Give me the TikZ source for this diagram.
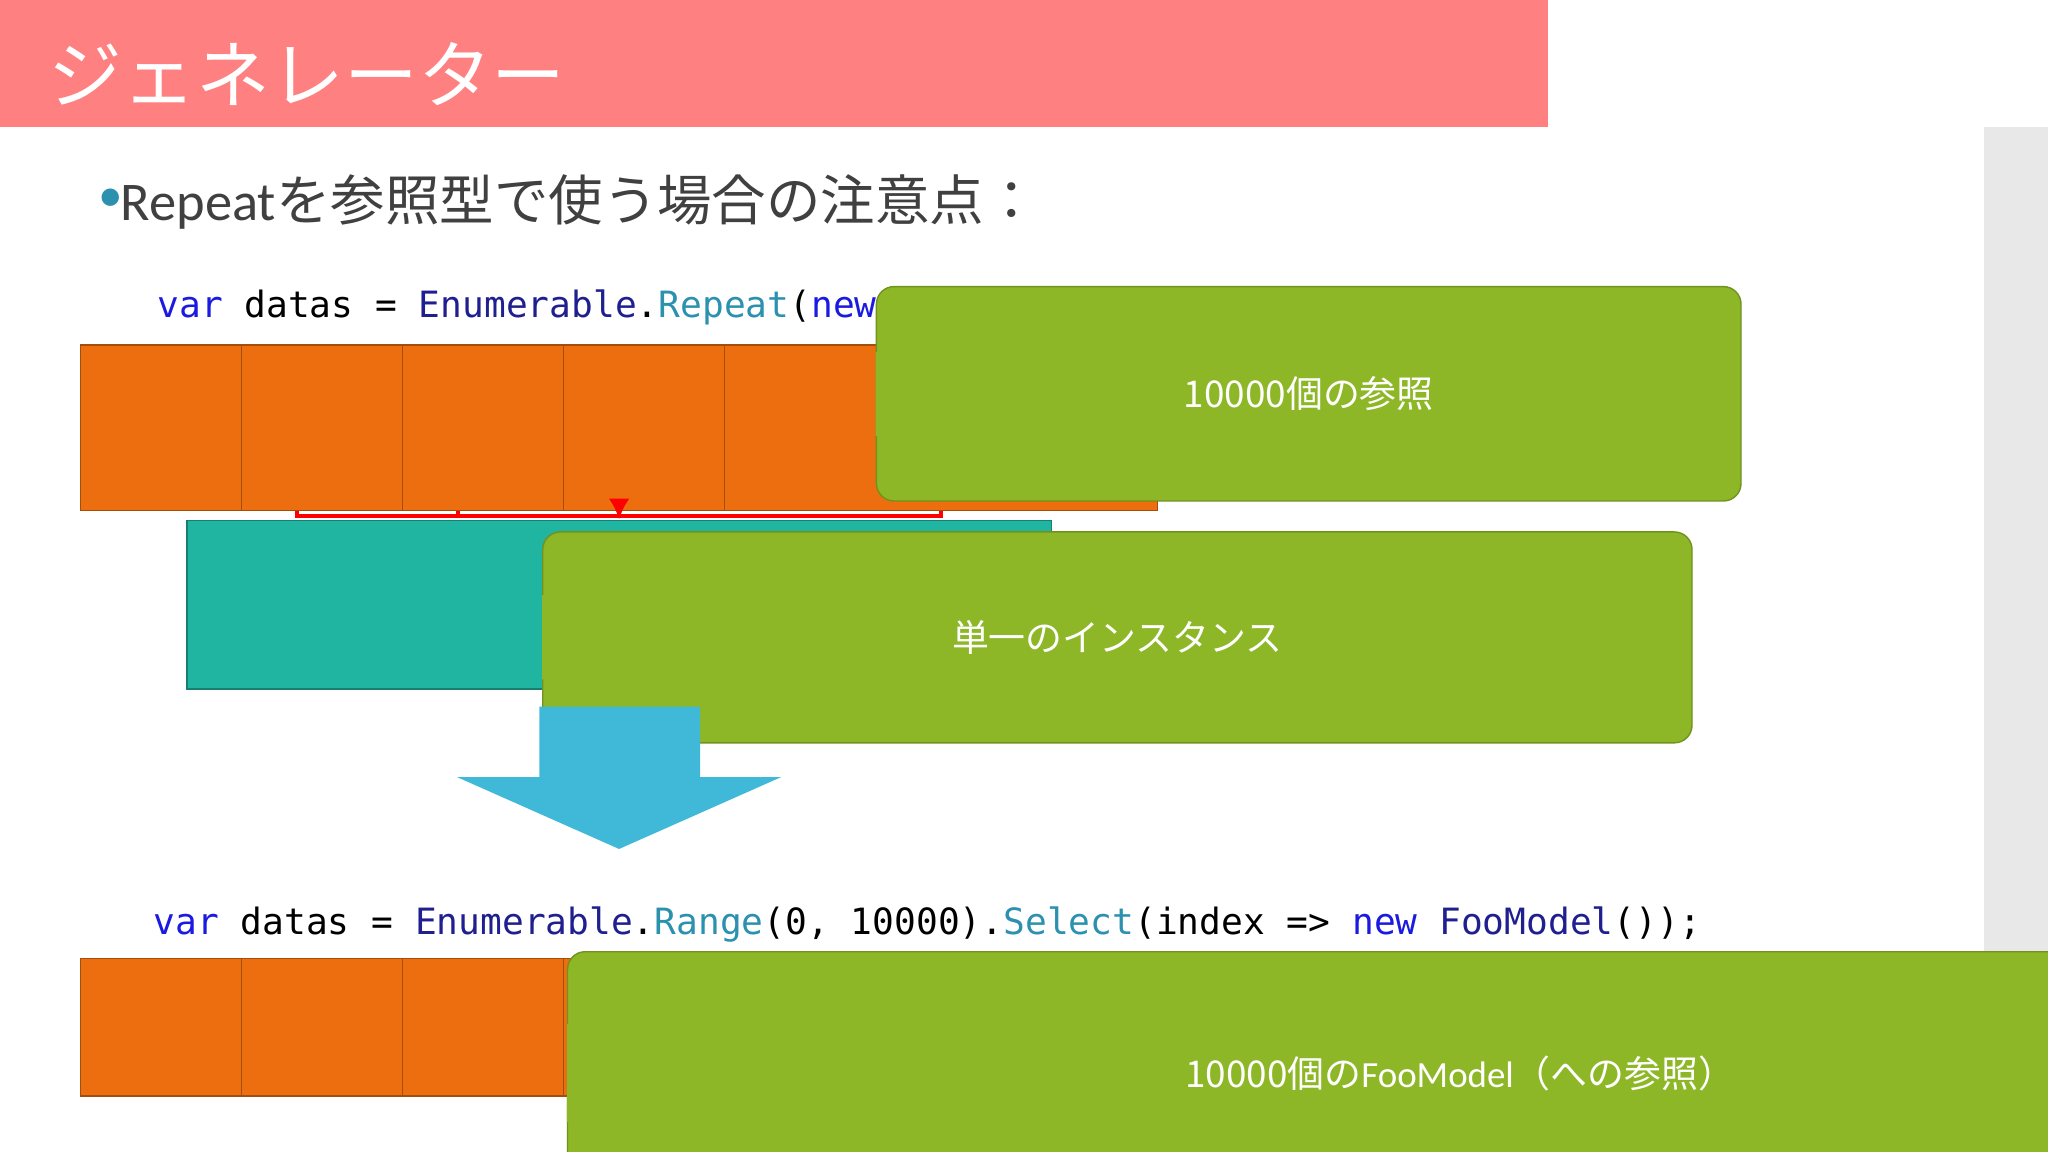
\documentclass[tikz,border=0pt]{standalone}
\usepackage{fontspec}
\setmainfont{Carlito}
\newfontfamily\cjk{Noto Sans CJK JP}
\newfontfamily\codefont{DejaVu Sans Mono}
\usetikzlibrary{positioning,shapes.geometric,arrows.meta}
\definecolor{titlepink}{HTML}{FF8080}
\definecolor{cellorange}{HTML}{EC6E0E}
\definecolor{modelteal}{HTML}{1FB5A0}
\definecolor{calloutgreen}{HTML}{8DB726}
\definecolor{arrowblue}{HTML}{40B8D8}
\definecolor{kwblue}{HTML}{1A1AE0}
\definecolor{typeblue}{HTML}{1F1F8F}
\definecolor{methteal}{HTML}{2B91AF}
\definecolor{textgray}{HTML}{404040}
\newcommand{\kw}[1]{\textcolor{kwblue}{#1}}
\newcommand{\ty}[1]{\textcolor{typeblue}{#1}}
\newcommand{\me}[1]{\textcolor{methteal}{#1}}
\tikzset{
  cell/.style={draw=cellorange!70!black, fill=cellorange, text=white, minimum width=123.2, inner sep=0pt},
  ref cell/.style={cell, minimum height=47, font=\fontsize{9.5}{11}\selectfont},
  model cell/.style={cell, minimum height=39, font=\fontsize{7.8}{9}\selectfont},
  callout/.style={fill=calloutgreen, draw=calloutgreen!80!black, rounded corners=5, text=white, inner sep=0pt,
    font=\cjk\fontsize{10.5}{12}\selectfont},
  link/.style={draw=red, line width=1.2pt},
}
\begin{document}
\begin{tikzpicture}[x=0.013061cm, y=-0.013061cm, >=latex]
  \useasboundingbox (0,0) rectangle (1568,882);
  % title and side bar
  \fill[titlepink] (0,0) rectangle (1185,97);
  \fill[gray!18] (1519,97) rectangle (1568,782);
  \node[anchor=west, text=white, font=\cjk\fontsize{21}{24}\selectfont] (title) at (28,57) {ジェネレーター};
  \node[anchor=west, text=methteal, font=\fontsize{14}{16}\selectfont] (bullet) at (66,153) {•};
  \node[anchor=west, text=textgray, font=\cjk\fontsize{15.5}{18}\selectfont, inner sep=0pt] (head) at (92,155)
    {{\fontspec{Carlito}Repeat}を参照型で使う場合の注意点：};
  % first code line
  \node[anchor=west, inner sep=0pt, font=\codefont\fontsize{10.3}{12}\selectfont] (code1) at (120,235)
    {\kw{var} datas = \ty{Enumerable}.\me{Repeat}(\kw{new} \ty{FooModel}(), 10000);};
  % reference cells
  \foreach \i/\t in {0/[Ref],1/[Ref],2/[Ref],3/{\ldots},4/[Ref]}
    \node[ref cell] (ref\i) at (227.6+123.2*\i,327.5) {\t};
  \node[fill=modelteal, draw=modelteal!70!black, text=white, minimum width=246, minimum height=48,
    inner sep=0pt, font=\fontsize{10}{12}\selectfont] (model) at (474,463) {FooModel};
  \coordinate (join) at (474,395);
  \foreach \i in {0,1,4}
    \draw[link] (ref\i.south) |- (join);
  \draw[link, -{Latex[length=6pt, width=6pt]}] (ref2.south) -- (model.north);
  % callouts
  \node[callout, minimum width=246, minimum height=61] (note1) at (1002,301.5) {10000個の参照};
  \coordinate (tip1) at (808,335);
  \fill[calloutgreen] ([yshift=-12]note1.west) -- (tip1) -- ([yshift=12]note1.west) -- cycle;
  \node[callout, minimum width=327, minimum height=60] (note2) at (855.5,488) {単一のインスタンス};
  \coordinate (tip2) at (618,463);
  \fill[calloutgreen] ([yshift=-12]note2.west) -- (tip2) -- ([yshift=12]note2.west) -- cycle;
  % big arrow
  \fill[arrowblue] (413,541) -- (536,541) -- (536,595) -- (598,595) -- (474,650) -- (350,595) -- (413,595) -- cycle;
  % second code line
  \node[anchor=west, inner sep=0pt, font=\codefont\fontsize{10.3}{12}\selectfont] (code2) at (117,708)
    {\kw{var} datas = \ty{Enumerable}.\me{Range}(0, 10000).\me{Select}(index => \kw{new} \ty{FooModel}());};
  \foreach \i/\t in {0/FooModel,1/FooModel,2/FooModel,3/{\ldots},4/FooModel}
    \node[model cell] (obj\i) at (227.6+123.2*\i,786.5) {\t};
  \node[callout, minimum width=508, minimum height=69] (note3) at (1118,821.5)
    {10000個の{\fontspec{Carlito}FooModel}（への参照）};
  \coordinate (tip3) at (795,784);
  \fill[calloutgreen] ([yshift=-14]note3.west) -- (tip3) -- ([yshift=14]note3.west) -- cycle;
\end{tikzpicture}
\end{document}
